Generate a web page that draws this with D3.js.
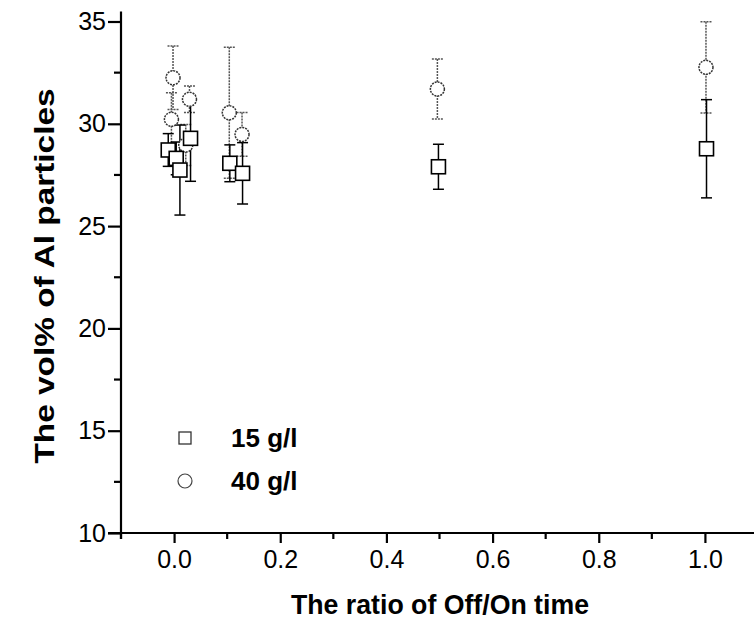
<!DOCTYPE html>
<meta charset="utf-8">
<title>Al particles</title>
<style>
body { margin: 0; background: #fff; }
text { font-family: "Liberation Sans", Arial, sans-serif; fill: #000; }
.axis path, .axis line { stroke: #000; stroke-width: 2.2px; }
.axis .tick text { font-size: 25px; }
.title { font-size: 28px; font-weight: bold; }
.leg { font-size: 26px; font-weight: bold; }
</style>
<svg></svg>
<script src="https://d3js.org/d3.v7.min.js"></script>
<script>
var width = 754, height = 628;

// 15 g/l series (squares)
var ratio15 = [-0.011, 0.004, 0.011, 0.031, 0.105, 0.129, 0.498, 1.003];
var vol15   = [28.72, 28.31, 27.74, 29.29, 28.07, 27.58, 27.90, 28.78];
var err15   = [0.8, 0.8, 2.2, 2.1, 0.9, 1.5, 1.1, 2.4];

// 40 g/l series (circles)
var ratio40 = [-0.002, -0.005, 0.022, 0.029, 0.104, 0.128, 0.496, 1.002];
var vol40   = [32.25, 30.22, 28.96, 31.20, 30.54, 29.48, 31.70, 32.76];
var err40   = [1.55, 1.3, 1.0, 0.65, 3.2, 1.07, 1.47, 2.23];

var xTicks = [0, 0.2, 0.4, 0.6, 0.8, 1.0];
var xMinor = [-0.1, 0.1, 0.3, 0.5, 0.7, 0.9];
var yTicks = [10, 15, 20, 25, 30, 35];
var yMinor = [12.5, 17.5, 22.5, 27.5, 32.5];

var svg = d3.select("svg").attr("width", width).attr("height", height);

var x = d3.scaleLinear().domain([-0.1, 1.1]).range([121, 758]);
var y = d3.scaleLinear().domain([10, 35]).range([533, 21.5]);

// x axis
var xAxis = svg.append("g")
  .attr("class", "axis")
  .attr("transform", "translate(0," + y(10) + ")")
  .call(d3.axisBottom(x).tickValues(xTicks).tickFormat(d3.format(".1f"))
    .tickSize(10).tickSizeOuter(0).tickPadding(7));
xAxis.attr("font-family", null);
xAxis.select(".domain").attr("d", "M" + (x(-0.1) - 13) + ",0H" + width);
xAxis.selectAll(".minor").data(xMinor).enter().append("line")
  .attr("class", "minor")
  .attr("x1", d => x(d)).attr("x2", d => x(d))
  .attr("y1", 0).attr("y2", 6);

// y axis
var yAxis = svg.append("g")
  .attr("class", "axis")
  .attr("transform", "translate(" + x(-0.1) + ",0)")
  .call(d3.axisLeft(y).tickValues(yTicks).tickSize(13).tickSizeOuter(0).tickPadding(2));
yAxis.attr("font-family", null);
yAxis.select(".domain").attr("d", "M0," + (y(35) - 10) + "V" + (y(10) + 6));
yAxis.selectAll(".minor").data(yMinor).enter().append("line")
  .attr("class", "minor")
  .attr("x1", 0).attr("x2", -7)
  .attr("y1", d => y(d)).attr("y2", d => y(d));

// error bars
function errBars(xs, ys, es, dash) {
  var g = svg.append("g")
    .attr("stroke", dash ? "#555" : "#000")
    .attr("stroke-width", 1.5)
    .attr("stroke-dasharray", dash ? "2,1" : null);
  xs.forEach(function(d, i) {
    var cx = x(d), top = y(ys[i] + es[i]), bot = y(ys[i] - es[i]);
    g.append("line").attr("x1", cx).attr("x2", cx).attr("y1", top).attr("y2", bot);
    g.append("line").attr("x1", cx - 5.5).attr("x2", cx + 5.5).attr("y1", top).attr("y2", top);
    g.append("line").attr("x1", cx - 5.5).attr("x2", cx + 5.5).attr("y1", bot).attr("y2", bot);
  });
}
errBars(ratio40, vol40, err40, true);
errBars(ratio15, vol15, err15, false);

svg.append("g").selectAll("circle").data(ratio40).enter().append("circle")
  .attr("cx", d => x(d))
  .attr("cy", (d, i) => y(vol40[i]))
  .attr("r", 7)
  .attr("fill", "#fff")
  .attr("stroke", "#333")
  .attr("stroke-width", 1.5)
  .attr("stroke-dasharray", "2,1");

svg.append("g").selectAll("rect").data(ratio15).enter().append("rect")
  .attr("x", d => x(d) - 7)
  .attr("y", (d, i) => y(vol15[i]) - 7)
  .attr("width", 14).attr("height", 14)
  .attr("fill", "#fff")
  .attr("stroke", "#000")
  .attr("stroke-width", 1.6);

// legend
var legend = svg.append("g");
legend.append("rect").attr("x", 179).attr("y", 432).attr("width", 12).attr("height", 12)
  .attr("fill", "none").attr("stroke", "#333").attr("stroke-width", 1.3);
legend.append("text").attr("class", "leg").attr("x", 231).attr("y", 447).text("15 g/l");
legend.append("circle").attr("cx", 185).attr("cy", 481).attr("r", 7)
  .attr("fill", "none").attr("stroke", "#444").attr("stroke-width", 1.2);
legend.append("text").attr("class", "leg").attr("x", 231).attr("y", 490).text("40 g/l");

// titles
svg.append("text").attr("class", "title")
  .attr("x", 440).attr("y", 614).attr("text-anchor", "middle")
  .attr("textLength", 298).attr("lengthAdjust", "spacingAndGlyphs")
  .text("The ratio of Off/On time");
svg.append("text").attr("class", "title")
  .attr("transform", "translate(54,276) rotate(-90)")
  .attr("text-anchor", "middle")
  .attr("textLength", 375).attr("lengthAdjust", "spacingAndGlyphs")
  .text("The vol% of Al particles");
</script>
